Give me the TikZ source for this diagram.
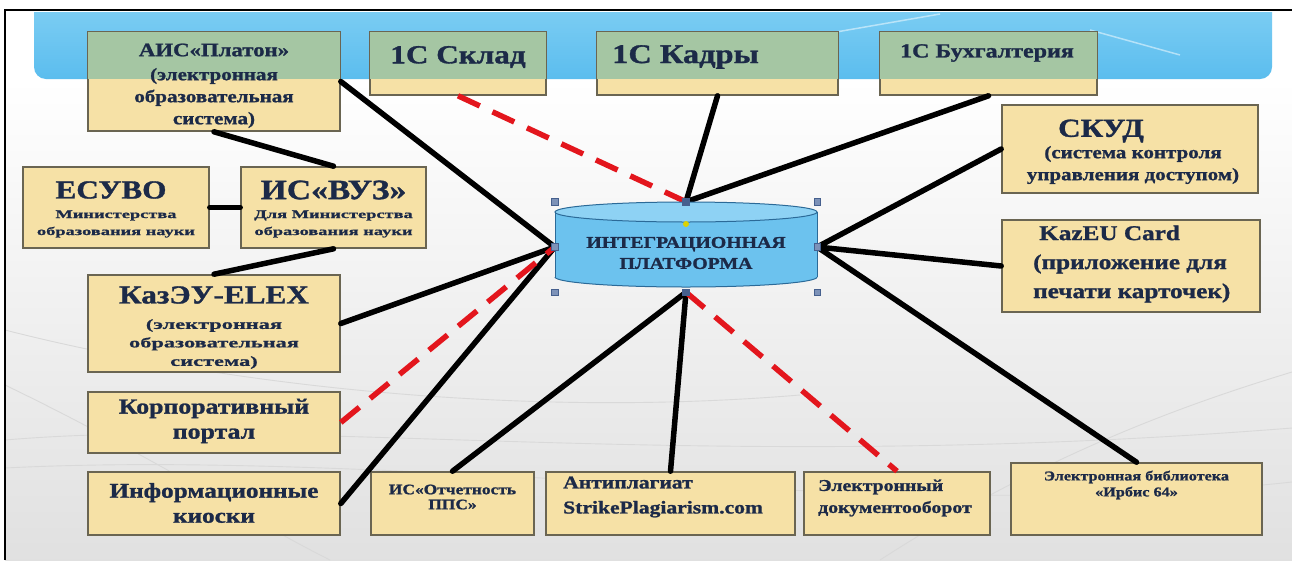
\documentclass[tikz,border=0pt]{standalone}
\usepackage{fontspec}
\setmainfont{Liberation Serif}[FakeStretch=1.2, BoldFeatures={FakeBold=1.2}]
\newfontfamily\widefam{Liberation Serif}[FakeStretch=1.6, BoldFeatures={FakeBold=1}]
\usetikzlibrary{calc}
\definecolor{bandtop}{HTML}{7ACCF3}
\definecolor{bandbot}{HTML}{5BBDEE}
\definecolor{boxfill}{HTML}{F6E1A6}
\definecolor{boxtop}{HTML}{A5C6A3}
\definecolor{boxedge}{HTML}{6A6552}
\definecolor{navy}{HTML}{1C2A48}
\definecolor{cylfill}{HTML}{6CC2EE}
\definecolor{cyltop}{HTML}{8ED2F4}
\definecolor{cyledge}{HTML}{2B6A98}
\definecolor{redline}{HTML}{E3161D}
\definecolor{handle}{HTML}{7D92B8}
\definecolor{handleedge}{HTML}{46608E}
\newcommand\fsz[2]{\fontsize{#1}{#2}\selectfont}
\tikzset{
 sysbox/.style={draw=boxedge, line width=1.6pt, fill=boxfill, inner sep=0pt, rectangle},
 lbl/.style={text=navy, inner sep=0pt, align=center},
 link/.style={line width=5.5pt, line cap=round, black},
 redlink/.style={line width=5.5pt, redline, dash pattern=on 24pt off 14pt},
 hnd/.style={draw=handleedge, fill=handle, minimum size=6.5pt, inner sep=0pt, rectangle, line width=0.6pt},
 swoosh/.style={gray!30, line width=0.9pt}
}
\begin{document}
\begin{tikzpicture}[x=1pt,y=-1pt]
\useasboundingbox (0,0) rectangle (1292,560);
% background
\fill[white] (0,0) rectangle (1292,560);
\shade[top color=white, bottom color=black!12] (5,80) rectangle (1292,560);
\draw[swoosh] (5,440) .. controls (300,415) and (700,475) .. (1292,428);
\draw[swoosh] (5,468) .. controls (400,448) and (900,525) .. (1292,482);
\draw[swoosh] (5,385) .. controls (150,455) and (250,520) .. (330,560);
\draw[swoosh] (880,560) .. controls (1050,450) and (1200,400) .. (1292,372);
\draw[swoosh] (5,330) .. controls (200,380) and (500,420) .. (800,395);
% band
\shade[top color=bandtop, bottom color=bandbot] (34,12) [rounded corners=12pt] -- (34,79) -- (1272,79) [sharp corners] -- (1272,12) -- cycle;
\draw[white, opacity=0.5, line width=1.5pt] (790,40) -- (940,14);
\draw[white, opacity=0.5, line width=1.5pt] (1090,30) -- (1180,55);
% frame
\draw[black, line width=2.2pt] (5,560) -- (5,10) -- (1292,10);
% boxes
\node[sysbox, minimum width=252pt, minimum height=99pt] (ais) at (214,81.5) {};
\node[sysbox, minimum width=176pt, minimum height=63pt] (sklad) at (458,63.5) {};
\node[sysbox, minimum width=241pt, minimum height=63pt] (kadry) at (717.5,63.5) {};
\node[sysbox, minimum width=217pt, minimum height=63pt] (buh) at (988.5,63.5) {};
\node[sysbox, minimum width=256pt, minimum height=88pt] (skud) at (1130,149) {};
\node[sysbox, minimum width=258pt, minimum height=92pt] (kaz) at (1131,266) {};
\node[sysbox, minimum width=186pt, minimum height=81pt] (esuvo) at (116,207.5) {};
\node[sysbox, minimum width=185pt, minimum height=81pt] (vuz) at (333.5,207.5) {};
\node[sysbox, minimum width=252pt, minimum height=97pt] (elex) at (214,323.5) {};
\node[sysbox, minimum width=252pt, minimum height=61pt] (korp) at (214,422.5) {};
\node[sysbox, minimum width=252pt, minimum height=63pt] (info) at (214,503.5) {};
\node[sysbox, minimum width=163pt, minimum height=63pt] (otch) at (452.5,503.5) {};
\node[sysbox, minimum width=249pt, minimum height=63pt] (anti) at (670.5,503.5) {};
\node[sysbox, minimum width=186pt, minimum height=63pt] (edoc) at (897,503.5) {};
\node[sysbox, minimum width=251pt, minimum height=72pt] (bib) at (1136.5,499) {};
% band tint on top row boxes
\foreach \b in {ais,sklad,kadry,buh}{
  \fill[boxtop] ([shift={(0.8,0.8)}]\b.north west) rectangle ([xshift=-0.8pt]\b.east |- 0,79);
}
% labels
\node[lbl, font=\bfseries\fsz{19}{22}] (ais-h) at (214,50) {АИС«Платон»};
\node[lbl, font=\bfseries\fsz{17.5}{22}] (ais-b) at (214,98) {(электронная\\образовательная\\система)};
\node[lbl, font=\bfseries\fsz{26}{28}] (sklad-t) at (458,57) {1С Склад};
\node[lbl, font=\bfseries\fsz{27}{28}, anchor=west] (kadry-t) at (612,57) {1С Кадры};
\node[lbl, font=\bfseries\fsz{20}{22}] (buh-t) at (987,53) {1С Бухгалтерия};
\node[lbl, font=\bfseries\fsz{26}{30}] (skud-h) at (1101,131) {СКУД};
\node[lbl, font=\bfseries\fsz{17.5}{22}] (skud-b) at (1133,165) {(система контроля\\управления доступом)};
\node[lbl, font=\bfseries\fsz{21}{29}, align=left, anchor=west] (kaz-t) at (1033,264) {\hspace*{6pt}KazEU Card\\(приложение для\\печати карточек)};
\node[lbl, font=\bfseries\fsz{26}{30}] (esuvo-h) at (111,190) {ЕСУВО};
\node[lbl, font=\widefam\bfseries\fsz{11.5}{17}] (esuvo-b) at (116,224) {Министерства\\образования науки};
\node[lbl, font=\bfseries\fsz{28}{30}] (vuz-h) at (333.5,190) {ИС«ВУЗ»};
\node[lbl, font=\widefam\bfseries\fsz{11.5}{17}] (vuz-b) at (333.5,224) {Для Министерства\\образования науки};
\node[lbl, font=\bfseries\fsz{26}{30}] (elex-h) at (214,295) {КазЭУ-ELEX};
\node[lbl, font=\widefam\bfseries\fsz{14}{18.5}] (elex-b) at (214,344) {(электронная\\образовательная\\система)};
\node[lbl, font=\bfseries\fsz{21.5}{25}] (korp-t) at (214,421) {Корпоративный\\портал};
\node[lbl, font=\bfseries\fsz{21}{25}] (info-t) at (214,503) {Информационные\\киоски};
\node[lbl, font=\bfseries\fsz{14.5}{15}] (otch-t) at (452.5,497) {ИС«Отчетность\\ППС»};
\node[lbl, font=\bfseries\fsz{18}{25}, align=left, anchor=west] (anti-t) at (563,497) {Антиплагиат\\StrikePlagiarism.com};
\node[lbl, font=\bfseries\fsz{16.5}{22}, align=left, anchor=west] (edoc-t) at (818,498) {Электронный\\документооборот};
\node[lbl, font=\bfseries\fsz{13.5}{16}] (bib-t) at (1136.5,485) {Электронная библиотека\\«Ирбис 64»};
% platform anchor node
\node[inner sep=0pt, minimum width=262pt, minimum height=90pt] (plat) at (686,247) {};
% connectors
\draw[link] (ais.east) -- (plat.west);
\draw[link] (ais.south) -- (vuz.north);
\draw[link] (esuvo.east) -- (vuz.west);
\draw[link] (vuz.south) -- (elex.north);
\draw[link] (elex.east) -- (plat.west);
\draw[link] (info.east) -- (plat.west);
\draw[redlink] (korp.east) -- (plat.west);
\draw[redlink] (sklad.south) -- (plat.north);
\draw[link] (kadry.south) -- (plat.north);
\draw[link] (buh.south) -- (plat.north);
\draw[link] (plat.east) -- (skud.west);
\draw[link] (plat.east) -- (kaz.west);
\draw[link] (plat.east) -- (bib.north);
\draw[link] (plat.south) -- (otch.north);
\draw[link] (plat.south) -- (anti.north);
\draw[redlink] (plat.south) -- (edoc.north);
% cylinder
\fill[cylfill] (555,212) rectangle (817,277);
\fill[cylfill] (686,277) ellipse [x radius=131pt, y radius=10pt];
\begin{scope}
  \clip (545,277) rectangle (830,300);
  \draw[cyledge, line width=1pt] (686,277) ellipse [x radius=131pt, y radius=10pt];
\end{scope}
\draw[cyledge, line width=1pt] (555,212) -- (555,277);
\draw[cyledge, line width=1pt] (817,212) -- (817,277);
\filldraw[fill=cyltop, draw=cyledge, line width=1pt] (686,212) ellipse [x radius=131pt, y radius=10pt];
\node[lbl, font=\bfseries\fsz{16.5}{21}] (plat-t) at (686,253) {ИНТЕГРАЦИОННАЯ\\ПЛАТФОРМА};
% selection handles
\node[hnd] (h1) at (plat.north west) {};
\node[hnd, fill=handleedge] (h2) at (plat.north) {};
\node[hnd] (h3) at (plat.north east) {};
\node[hnd] (h4) at (plat.west) {};
\node[hnd] (h5) at (plat.east) {};
\node[hnd] (h6) at (plat.south west) {};
\node[hnd, fill=handleedge] (h7) at (plat.south) {};
\node[hnd] (h8) at (plat.south east) {};
\fill[yellow!70!olive] (686,224) circle [radius=3pt];
\end{tikzpicture}
\end{document}
